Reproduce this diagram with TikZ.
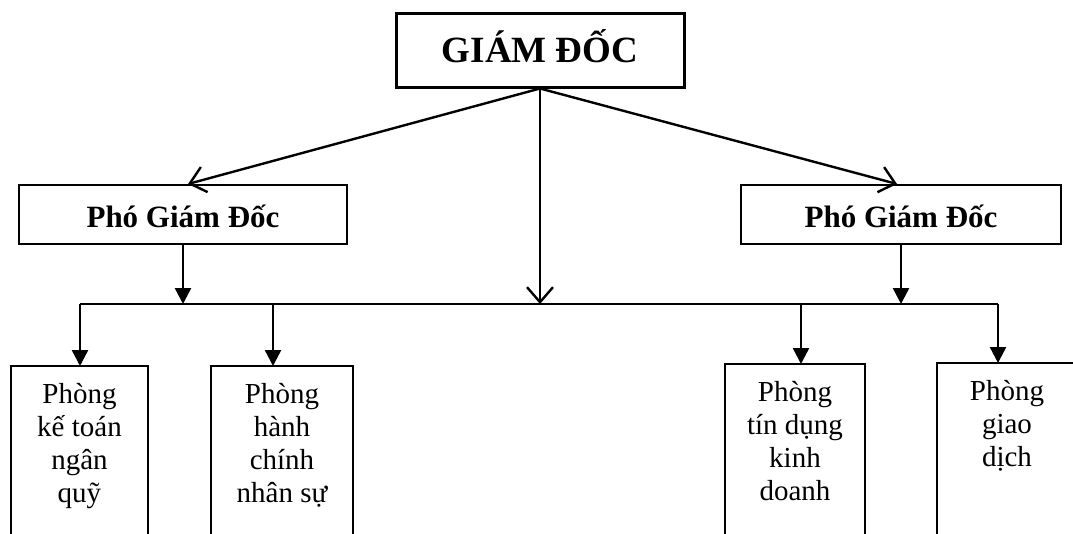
\documentclass[tikz,border=0pt]{standalone}
\usepackage{fontspec}
\setmainfont{Liberation Serif}
\usetikzlibrary{positioning,arrows.meta}

\tikzset{
  chief/.style={draw, line width=3pt, minimum width=288pt, minimum height=74pt,
    text height=28pt, text depth=4pt, font=\fontsize{37}{40}\selectfont\bfseries},
  deputy/.style={draw, line width=2pt, minimum height=59pt,
    text height=29pt, text depth=4pt, font=\fontsize{31}{34}\selectfont\bfseries},
  dept/.style={anchor=north, align=center, inner xsep=0pt, inner ysep=17pt,
    font=\fontsize{29}{33}\selectfont},
  frame/.style={line width=2pt},
  barb/.style={line width=2.4pt, -{Straight Barb[length=15pt,width=26pt]}},
  tri/.style={line width=2.4pt, -{Triangle[length=16pt,width=16pt]}}
}

\begin{document}
\begin{tikzpicture}[x=1pt,y=-1pt]
\clip (0,0) rectangle (1073,533);
% top level
\node[chief] (gd) at (540,50) {GIÁM ĐỐC};
\node[deputy, minimum width=328pt] (pgd1) at (183,214.5) {Phó Giám Đốc};
\node[deputy, minimum width=320pt] (pgd2) at (901,214.5) {Phó Giám Đốc};
% bus line
\coordinate (base) at (0,540);
\coordinate (busl) at (80,304);
\coordinate (busr) at (998,304);
\coordinate (j2) at (273,304);
\coordinate (j3) at (801,304);
% departments
\node[dept, minimum width=137pt] (ketoan) at (79.5,366) {Phòng\\kế toán\\ngân\\quỹ};
\node[dept, minimum width=142pt] (hanhchinh) at (282,366) {Phòng\\hành\\chính\\nhân sự};
\node[dept, minimum width=140pt] (tindung) at (795,364) {Phòng\\tín dụng\\kinh\\doanh};
\node[dept, minimum width=140pt] (giaodich) at (1007,363) {Phòng\\giao\\dịch};
\foreach \n in {ketoan,hanhchinh,tindung,giaodich}
  \draw[frame] (\n.west |- base) -- (\n.north west) -- (\n.north east) -- (\n.east |- base);
% connectors
\draw[frame] (busl) -- (busr);
\draw[barb] (gd.south) -- ([xshift=5pt]pgd1.north);
\draw[barb] (gd.south) -- ([xshift=-4pt]pgd2.north);
\draw[barb] (gd.south) -- (gd.south |- busl);
\draw[tri] (pgd1.south) -- (pgd1.south |- busl);
\draw[tri] (pgd2.south) -- (pgd2.south |- busl);
\draw[tri] (busl) -- (busl |- ketoan.north);
\draw[tri] (j2) -- (j2 |- hanhchinh.north);
\draw[tri] (j3) -- (j3 |- tindung.north);
\draw[tri] (busr) -- (busr |- giaodich.north);
\end{tikzpicture}
\end{document}
